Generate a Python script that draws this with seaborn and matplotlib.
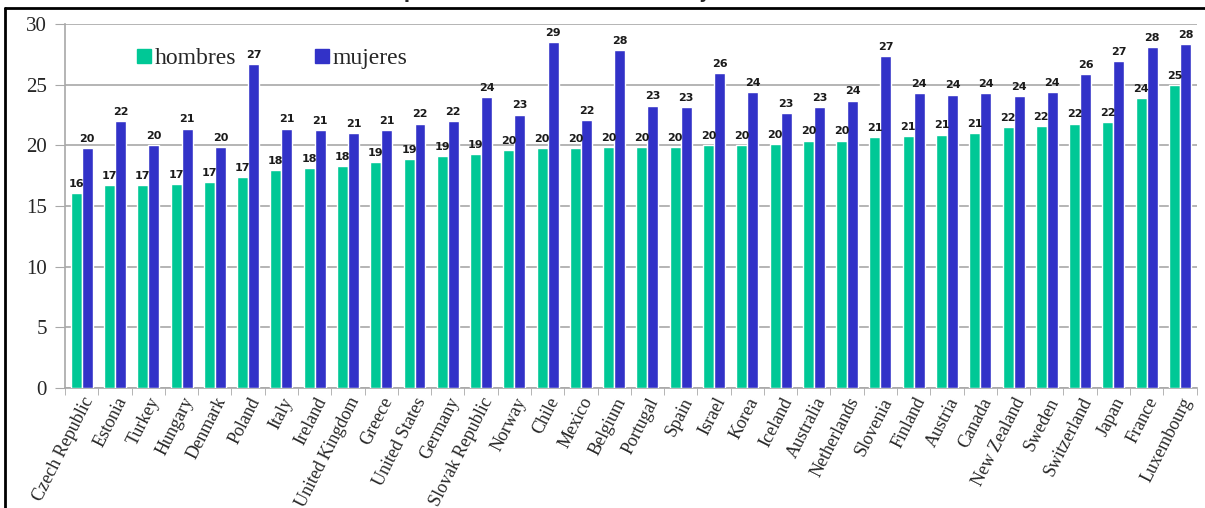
import pandas as pd
import seaborn as sns
import matplotlib.pyplot as plt
from matplotlib.lines import Line2D

# Esperanza de vida a la edad de jubilacion (anos), por pais
countries = ['Czech Republic', 'Estonia', 'Turkey', 'Hungary', 'Denmark', 'Poland',
             'Italy', 'Ireland', 'United Kingdom', 'Greece', 'United States', 'Germany',
             'Slovak Republic', 'Norway', 'Chile', 'Mexico', 'Belgium', 'Portugal',
             'Spain', 'Israel', 'Korea', 'Iceland', 'Australia', 'Netherlands',
             'Slovenia', 'Finland', 'Austria', 'Canada', 'New Zealand', 'Sweden',
             'Switzerland', 'Japan', 'France', 'Luxembourg']
hombres = [16.1, 16.7, 16.7, 16.8, 17.0, 17.4, 18.0, 18.1, 18.3, 18.6, 18.9, 19.1,
           19.3, 19.6, 19.8, 19.8, 19.9, 19.9, 19.9, 20.0, 20.0, 20.1, 20.4, 20.4,
           20.7, 20.8, 20.9, 21.0, 21.55, 21.6, 21.8, 21.9, 23.9, 25.0]
mujeres = [19.8, 22.0, 20.0, 21.4, 19.9, 26.7, 21.4, 21.3, 21.0, 21.3, 21.8, 22.0,
           24.0, 22.55, 28.55, 22.1, 27.9, 23.3, 23.2, 26.0, 24.4, 22.7, 23.2, 23.7,
           27.4, 24.3, 24.2, 24.3, 24.1, 24.4, 25.9, 27.0, 28.1, 28.4]

df = pd.DataFrame({'pais': countries * 2,
                   'anos': hombres + mujeres,
                   'sexo': ['hombres'] * len(countries) + ['mujeres'] * len(countries)})

colores = {'hombres': '#00C896', 'mujeres': '#3232C8'}

sns.set_style('white')
plt.rcParams['font.family'] = ['Liberation Serif', 'DejaVu Serif']

fig = plt.figure(figsize=(12.05, 5.08), dpi=100)
ax = fig.add_axes([0.054, 0.237, 0.939, 0.715])

sns.barplot(data=df, x='pais', y='anos', hue='sexo', palette=colores,
            width=0.66, saturation=1, ax=ax, legend=False, zorder=3)

# etiquetas sobre las barras
for cont in ax.containers:
    ax.bar_label(cont, fmt='%.0f', padding=3, fontsize=8, fontweight='bold',
                 color='#1a1a1a', family='DejaVu Sans')

ax.set_ylim(0, 30)
ax.set_xlim(-0.5, len(countries) - 0.5)
ax.set_yticks(range(0, 31, 5))
ax.yaxis.grid(True, color='#a8a8a8', linewidth=1.2, zorder=0)
ax.set_xlabel('')
ax.set_ylabel('')

for s in ['top', 'right']:
    ax.spines[s].set_visible(False)
for s in ['left', 'bottom']:
    ax.spines[s].set_color('#a8a8a8')
    ax.spines[s].set_linewidth(1.2)

ax.tick_params(axis='y', labelsize=15, length=7, color='#a8a8a8', left=True, pad=6)
ax.set_xticks(range(len(countries)))
ax.set_xticklabels(countries, rotation=63, ha='right', rotation_mode='anchor',
                   fontsize=13)
ax.set_xticks([i + 0.5 for i in range(-1, len(countries))], minor=True)
ax.tick_params(axis='x', which='major', length=0, pad=5)
ax.tick_params(axis='x', which='minor', length=5, color='#a8a8a8', bottom=True)

handles = [Line2D([], [], marker='s', linestyle='', markersize=10,
                  color=colores[k]) for k in ['hombres', 'mujeres']]
ax.legend(handles, ['hombres', 'mujeres'], ncol=2, frameon=False,
          loc='upper left', bbox_to_anchor=(0.043, 0.995), fontsize=17,
          handlelength=0.8, handletextpad=0.05, columnspacing=3.2)

# marco exterior y titulo recortado
fig.add_artist(Line2D([5 / 1205, 5 / 1205], [0, 1 - 8 / 508], color='black',
                      linewidth=2, transform=fig.transFigure))
fig.add_artist(Line2D([5 / 1205, 1], [1 - 8 / 508, 1 - 8 / 508], color='black',
                      linewidth=2, transform=fig.transFigure))
fig.text(0.49, 1 + 2 / 508, 'Esperanza de vida a la edad de jubilación',
         ha='center', va='baseline', fontsize=13, fontweight='bold',
         family='DejaVu Sans')

fig.savefig('out.png', dpi=100)
